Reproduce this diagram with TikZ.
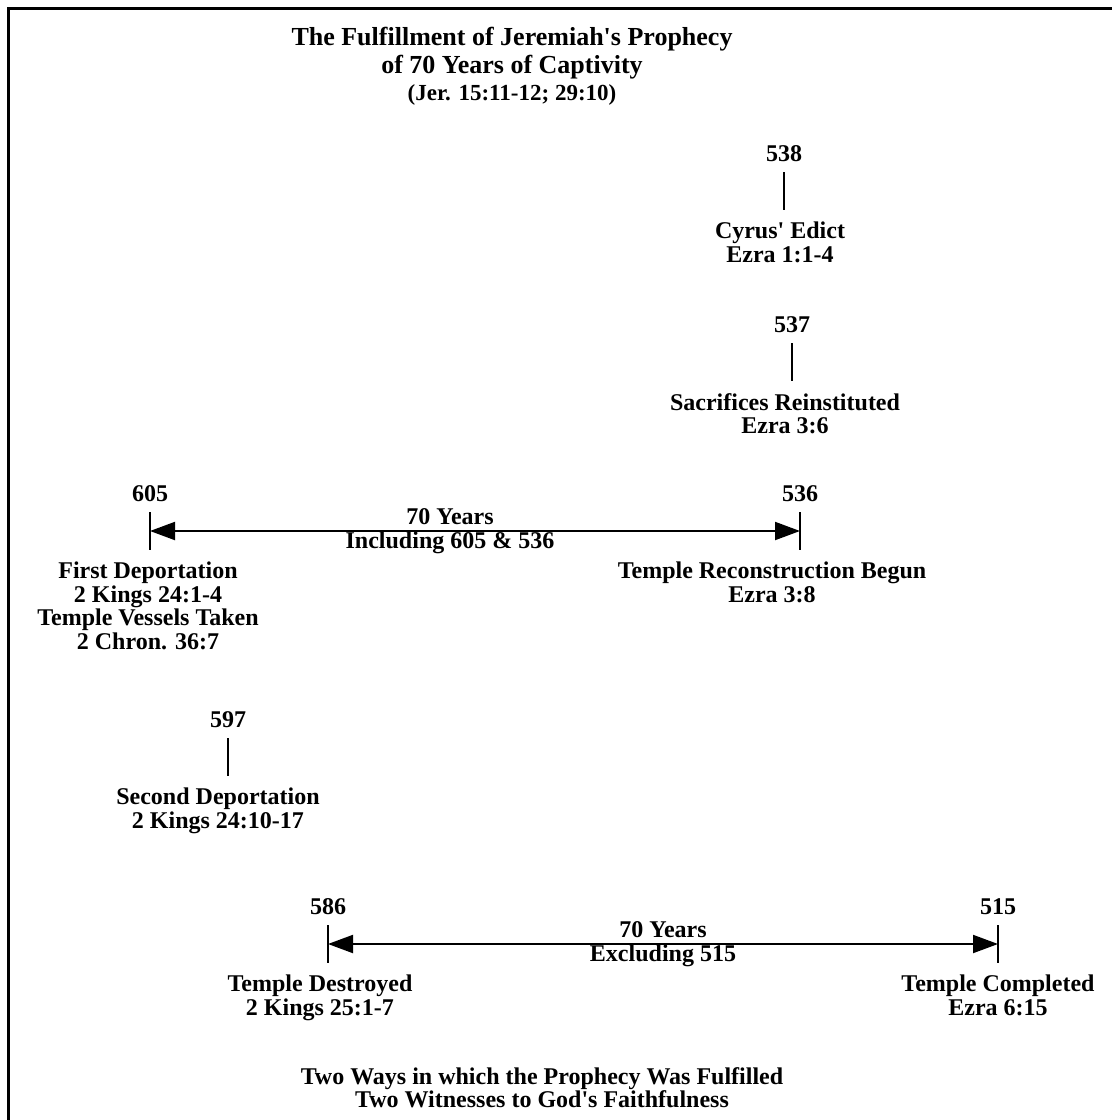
\documentclass[tikz,border=0pt]{standalone}
\usepackage{fontspec}
\setmainfont{Liberation Serif}[Ligatures=TeXOff]
\usetikzlibrary{arrows.meta}
\usetikzlibrary{positioning}
\usetikzlibrary{calc}

\tikzset{
  lbl/.style={font=\fontsize{24}{23.5}\selectfont\bfseries, align=center, inner sep=0pt},
  ttl/.style={font=\fontsize{26}{28}\selectfont\bfseries, align=center, inner sep=0pt},
  small/.style={font=\fontsize{23}{25}\selectfont\bfseries, align=center, inner sep=0pt},
  ticklin/.style={line width=1.8pt},
  span/.style={line width=2pt, {Triangle[length=25pt,width=18pt]}-{Triangle[length=25pt,width=18pt]}},
}

\begin{document}
\begin{tikzpicture}[x=1pt, y=-1pt]
      \useasboundingbox (0,0) rectangle (1112,1120);
      %% Frame
      \draw[line width=3pt] (8,1120) -- (8,8) -- (1112,8);

      %% Title
      \node[ttl, anchor=north] (title) at (512,27) {The Fulfillment of Jeremiah's Prophecy\\of 70 Years of Captivity};
      \node[small, below=5pt of title] (ref) {(Jer. 15:11-12; 29:10)};

      %% Years and ticks
      \foreach \yr/\x/\y in {538/784/172, 537/792/343, 605/150/512, 536/800/512, 597/228/738, 586/328/925, 515/998/925}
      {%
        \node[lbl] (y\yr) at (\x, \y-18) {\yr};
        \coordinate (t\yr) at (\x, \y);
        \coordinate (b\yr) at (\x, \y+38);
        \coordinate (m\yr) at (\x, \y+19);
        \draw[ticklin] (t\yr) -- (b\yr);
      }

      %% Events
      \node[lbl, below=12pt of b538, xshift=-4pt] (cyrus) {Cyrus' Edict\\Ezra 1:1-4};
      \node[lbl, below=12pt of b537, xshift=-7pt] (sacr) {Sacrifices Reinstituted\\Ezra 3:6};
      \node[lbl, below=12pt of b605, xshift=-2pt] (first) {First Deportation\\2 Kings 24:1-4\\Temple Vessels Taken\\2 Chron. 36:7};
      \node[lbl, below=12pt of b536, xshift=-28pt] (recon) {Temple Reconstruction Begun\\Ezra 3:8};
      \node[lbl, below=12pt of b597, xshift=-10pt] (second) {Second Deportation\\2 Kings 24:10-17};
      \node[lbl, below=12pt of b586, xshift=-8pt] (destr) {Temple Destroyed\\2 Kings 25:1-7};
      \node[lbl, below=12pt of b515] (compl) {Temple Completed\\Ezra 6:15};

      %% The two spans of 70 years
      \draw[span] (m605) -- (m536);
      \node[lbl] (incl) at ($(m605)!0.5!(m536) + (-25,0)$) {70 Years\\Including 605 \& 536};
      \draw[span] (m586) -- (m515);
      \node[lbl] (excl) at ($(m586)!0.5!(m515)$) {70 Years\\Excluding 515};

      %% Footer
      \node[lbl, anchor=north] (foot) at (542,1067) {Two Ways in which the Prophecy Was Fulfilled\\Two Witnesses to God's Faithfulness};
\end{tikzpicture}
\end{document}
